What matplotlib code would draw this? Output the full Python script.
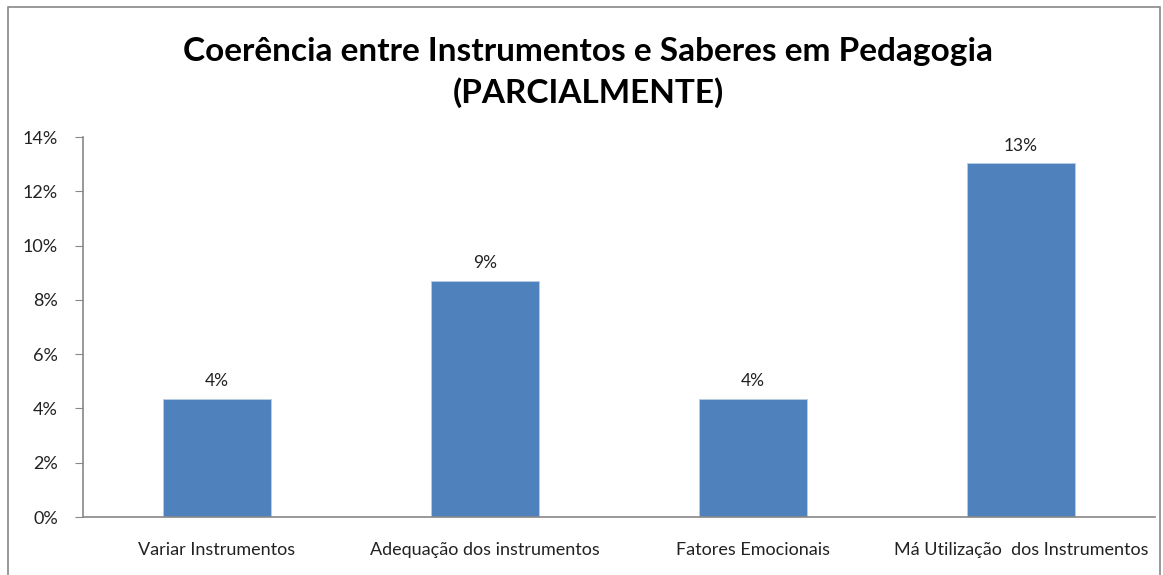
import matplotlib.pyplot as plt
from matplotlib.patches import Rectangle
from matplotlib.ticker import FuncFormatter

categories = ['Variar Instrumentos', 'Adequação dos instrumentos',
              'Fatores Emocionais', 'Má Utilização  dos Instrumentos']
values = [4.35, 8.70, 4.35, 13.04]
labels = ['4%', '9%', '4%', '13%']

plt.rcParams['font.family'] = ['Lato', 'DejaVu Sans']

fig = plt.figure(figsize=(11.63, 5.75), dpi=100)
fig.patches.append(Rectangle((0.007, -0.01), 0.99, 0.997, transform=fig.transFigure,
                             fill=False, edgecolor='#888888', linewidth=1.2))
ax = fig.add_axes([83 / 1163, 58 / 575, 1072 / 1163, 380 / 575])

x = range(len(categories))
ax.bar(x, values, width=0.4, color='#4f81bd', edgecolor='#b9cde5', linewidth=0.6)
for i, v in enumerate(values):
    ax.text(i, v + 0.35, labels[i], ha='center', va='bottom', fontsize=12.5, color='#222222')

ax.set_xlim(-0.5, len(categories) - 0.5)
ax.set_ylim(0, 14)
ax.set_yticks(range(0, 15, 2))
ax.yaxis.set_major_formatter(FuncFormatter(lambda v, p: f'{int(v)}%'))
ax.set_xticks(list(x))
ax.set_xticklabels(categories, fontsize=13, color='#222222')
ax.tick_params(axis='x', length=0, pad=18)
ax.tick_params(axis='y', length=6, direction='out', color='#888888', labelsize=13,
               labelcolor='#222222', pad=12)
for s in ['top', 'right']:
    ax.spines[s].set_visible(False)
for s in ['left', 'bottom']:
    ax.spines[s].set_color('#888888')
    ax.spines[s].set_linewidth(1.2)

fig.text(0.506, 0.874, 'Coerência entre Instrumentos e Saberes em Pedagogia\n(PARCIALMENTE)',
         ha='center', va='center', fontsize=24, fontweight='bold', linespacing=1.45)

fig.savefig('out.png', dpi=100)
